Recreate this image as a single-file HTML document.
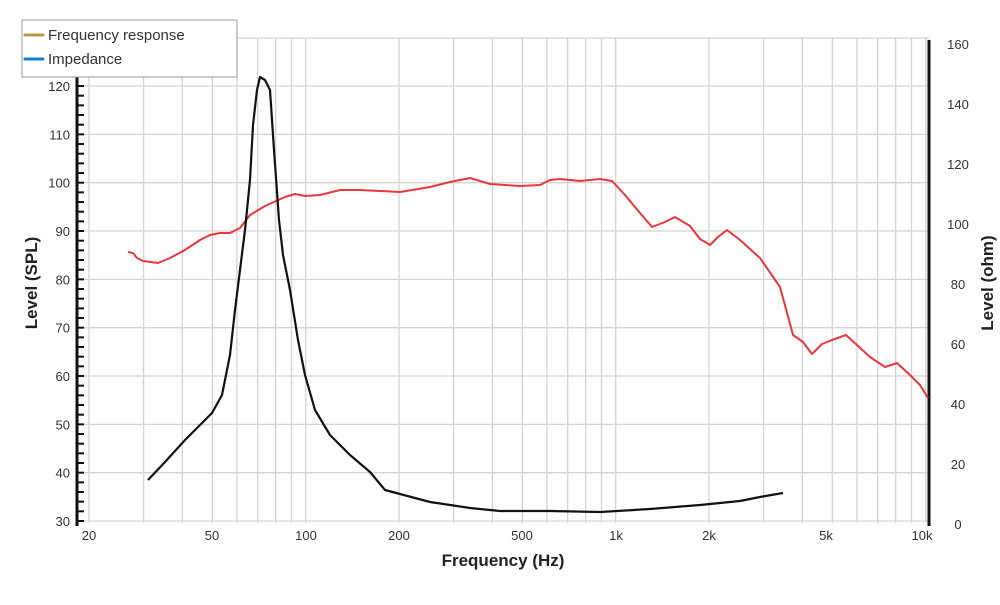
<!DOCTYPE html>
<html><head><meta charset="utf-8"><style>
body{margin:0;background:#fff;}
svg text{font-family:"Liberation Sans",sans-serif;}
</style></head><body>
<svg width="1000" height="600" viewBox="0 0 1000 600" xmlns="http://www.w3.org/2000/svg">
<rect width="1000" height="600" fill="#fff"/>
<g id="grid" stroke="#d4d4d4" stroke-width="1.3"></g>
<g id="ticks" stroke="#111" stroke-width="2"></g>
<line x1="77" y1="38" x2="77" y2="526" stroke="#111" stroke-width="3"/>
<line x1="929" y1="40" x2="929" y2="526" stroke="#111" stroke-width="3"/>
<g font-size="13" fill="#333" text-anchor="end" id="ylab"></g>
<g font-size="13" fill="#333" text-anchor="middle" id="rlab"></g>
<g font-size="13" fill="#333" text-anchor="middle">
<text x="89" y="540">20</text><text x="212" y="540">50</text><text x="306" y="540">100</text>
<text x="399" y="540">200</text><text x="522" y="540">500</text><text x="616" y="540">1k</text>
<text x="709" y="540">2k</text><text x="826" y="540">5k</text><text x="922" y="540">10k</text>
</g>
<text x="503" y="566" font-size="17" font-weight="bold" fill="#222" text-anchor="middle">Frequency (Hz)</text>
<text transform="translate(37,283) rotate(-90)" font-size="17" font-weight="bold" fill="#222" text-anchor="middle">Level (SPL)</text>
<text transform="translate(993,283) rotate(-90)" font-size="17" font-weight="bold" fill="#222" text-anchor="middle">Level (ohm)</text>
<polyline fill="none" stroke="#e8383d" stroke-width="2" stroke-linejoin="round" points="128,252 133,253 137,258 143,261 158,263 170,258 185,250 200,240 210,235 220,233 230,233 240,228 250,215 265,206 285,197 295,194 305,196 320,195 340,190 360,190 400,192 430,187 450,182 470,178 490,184 520,186 540,185 550,180 560,179 580,181 600,179 612,181 625,195 640,213 652,227 665,222 675,217 690,226 700,239 710,245 718,237 727,230 740,240 760,258 780,287 793,335 803,342 812,354 822,344 832,340 846,335 858,346 870,357 885,367 897,363 910,375 920,385 928,398"/>
<polyline fill="none" stroke="#111" stroke-width="2.2" stroke-linejoin="round" points="148,480 165,462 185,440 200,425 212,413 222,395 230,355 235,310 240,270 245,230 250,180 253,125 257,90 260,77 265,80 270,90 274,150 279,220 283,255 290,290 298,340 305,375 315,410 330,435 350,455 370,472 385,490 400,494 430,502 470,508 500,511 550,511 600,512 650,509 700,505 740,501 760,497 783,493"/>
<rect x="22" y="20" width="215" height="57" fill="#fff" stroke="#999" stroke-width="1"/>
<line x1="25" y1="35" x2="43" y2="35" stroke="#b8964a" stroke-width="3" stroke-linecap="round"/>
<line x1="25" y1="59" x2="43" y2="59" stroke="#1a7fd4" stroke-width="3" stroke-linecap="round"/>
<text x="48" y="40" font-size="15" fill="#333">Frequency response</text>
<text x="48" y="64" font-size="15" fill="#333">Impedance</text>
<script>
var g=document.getElementById('grid'),t=document.getElementById('ticks'),yl=document.getElementById('ylab'),rl=document.getElementById('rlab');
var ns='http://www.w3.org/2000/svg';
function L(p,a){var e=document.createElementNS(ns,'line');for(var k in a)e.setAttribute(k,a[k]);p.appendChild(e);}
function T(p,x,y,s){var e=document.createElementNS(ns,'text');e.setAttribute('x',x);e.setAttribute('y',y);e.textContent=s;p.appendChild(e);}
[10,100,1000,10000].forEach(function(d){for(var m=1;m<10;m++){var f=d*m;if(f<20||f>10000)continue;var x=89+310*Math.log10(f/20);L(g,{x1:x,y1:38,x2:x,y2:523});}});
for(var v=30;v<=120;v+=10){var y=521-(v-30)*4.833;L(g,{x1:77,y1:y,x2:929,y2:y});T(yl,70,y+5,v);}
L(g,{x1:77,y1:38,x2:929,y2:38});
for(var v=30;v<=124;v+=2){var y=521-(v-30)*4.833;L(t,{x1:77,y1:y,x2:84,y2:y});}
for(var r=0;r<=160;r+=20){var y=524-r*3;T(rl,958,y+5,r);}
</script>
</svg>
</body></html>
